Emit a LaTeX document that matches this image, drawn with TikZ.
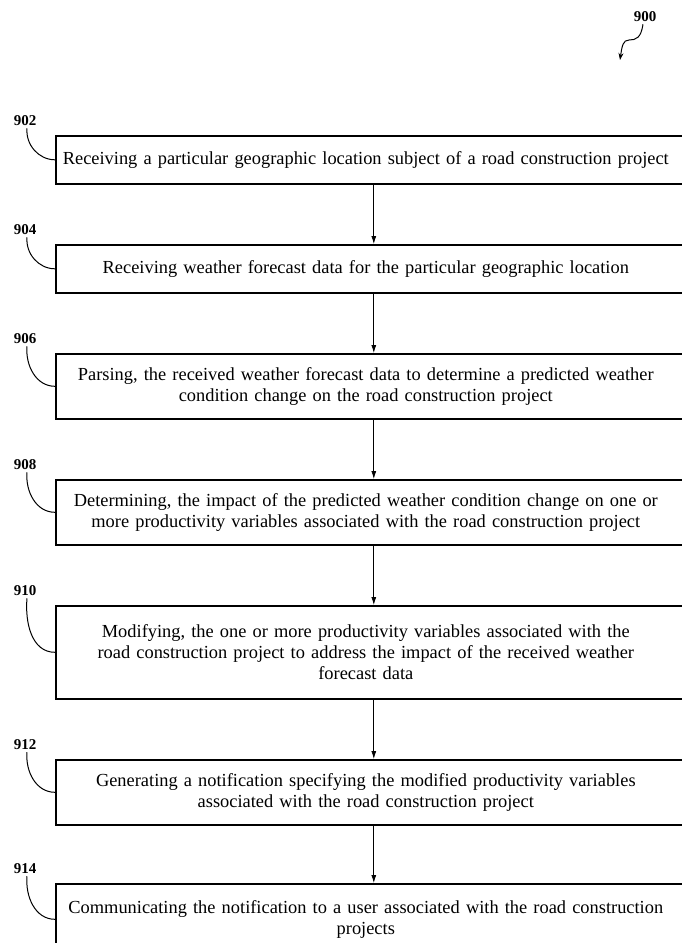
\documentclass[tikz,border=0pt]{standalone}
\usepackage{fontspec}
\setmainfont{Liberation Serif}
\usetikzlibrary{arrows.meta}
\begin{document}
\begin{tikzpicture}[x=1pt,y=-1pt,
  stepbox/.style={draw=black,line width=1.6pt,minimum width=631pt,text width=625pt,
    align=center,font=\fontsize{18.4}{21}\selectfont,inner sep=0pt,anchor=north west,
    execute at begin node={\leftskip=0pt plus 1fil\rightskip=11pt plus 1fil
      \parfillskip=0pt\relax}},
  refnum/.style={font=\bfseries\fontsize{15}{15}\selectfont,inner sep=0pt},
  hook/.style={line width=1pt},
  flow/.style={line width=0.8pt,-{Latex[length=8pt,width=5pt]}}]
\useasboundingbox (0,0) rectangle (682,943);

% process steps
\node[stepbox,minimum height=48pt] (b902) at (55,135)
  {Receiving a particular geographic location subject of a road construction project};
\node[stepbox,minimum height=48pt] (b904) at (55,244)
  {Receiving weather forecast data for the particular geographic location};
\node[stepbox,minimum height=65pt] (b906) at (55,353)
  {Parsing, the received weather forecast data to determine a predicted weather\\
   condition change on the road construction project};
\node[stepbox,minimum height=65pt] (b908) at (55,479)
  {Determining, the impact of the predicted weather condition change on one or\\
   more productivity variables associated with the road construction project};
\node[stepbox,minimum height=93pt] (b910) at (55,605)
  {Modifying, the one or more productivity variables associated with the\\
   road construction project to address the impact of the received weather\\
   forecast data};
\node[stepbox,minimum height=65pt] (b912) at (55,759)
  {Generating a notification specifying the modified productivity variables\\
   associated with the road construction project};
\node[stepbox,minimum height=71pt] (b914) at (55,883)
  {Communicating the notification to a user associated with the road construction\\
   projects};

% flow arrows
\foreach \a/\b in {b902/b904,b904/b906,b906/b908,b908/b910,b910/b912,b912/b914}
  \draw[flow] ([xshift=2.5pt]\a.south) -- ([xshift=2.5pt]\b.north);

% reference numerals with leader hooks
\foreach \n/\y in {902/121,904/230,906/339,908/465,910/591,912/745,914/869}{
  \node[refnum] (l\n) at (25,\y) {\n};
  \draw[hook] ([xshift=2pt,yshift=-2pt]l\n.south) to[out=-95,in=180] (b\n.west);
}

% figure number
\node[refnum] (l900) at (645,17) {900};
\coordinate (t900) at (620,60);
\draw[hook,-{Stealth[length=7pt,width=5pt]}] ([xshift=-2pt,yshift=-2pt]l900.south)
  .. controls (641,38) and (636,40) .. (629,40)
  .. controls (623,40) and (622,46) .. (t900);
\end{tikzpicture}
\end{document}
